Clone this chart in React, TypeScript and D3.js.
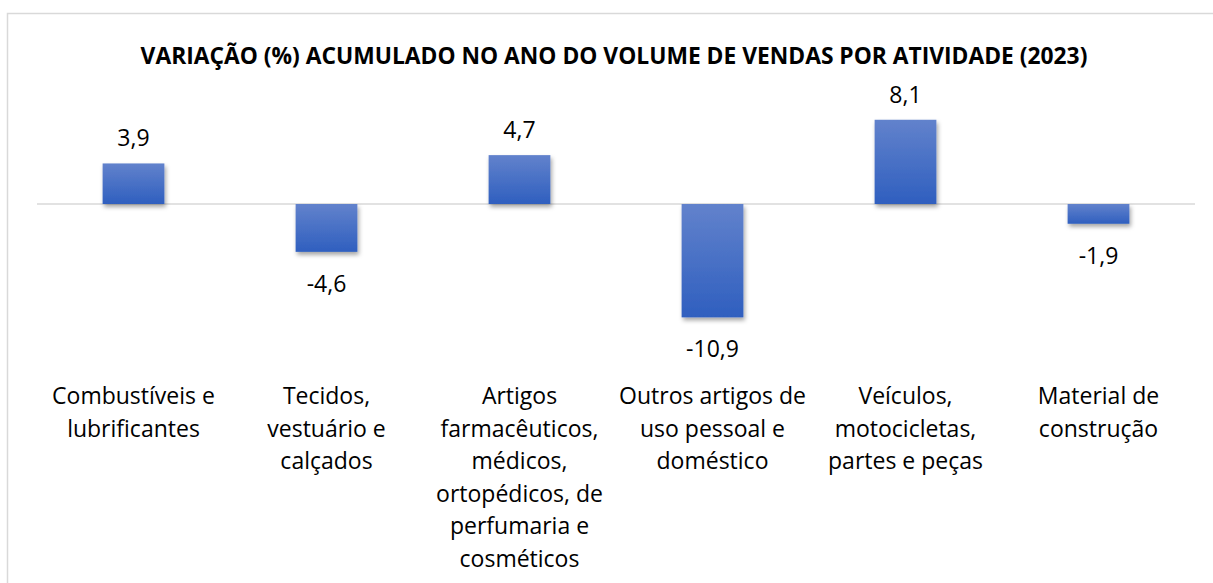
import React from 'react';
import * as d3 from 'd3';

const title = 'VARIAÇÃO (%) ACUMULADO NO ANO DO VOLUME DE VENDAS POR ATIVIDADE (2023)';
const categories = [
  ['Combustíveis e', 'lubrificantes'],
  ['Tecidos,', 'vestuário e', 'calçados'],
  ['Artigos', 'farmacêuticos,', 'médicos,', 'ortopédicos, de', 'perfumaria e', 'cosméticos'],
  ['Outros artigos de', 'uso pessoal e', 'doméstico'],
  ['Veículos,', 'motocicletas,', 'partes e peças'],
  ['Material de', 'construção'],
];
const values = [3.9, -4.6, 4.7, -10.9, 8.1, -1.9];

const width = 1213;
const height = 583;
const font = '"Open Sans", Lato, sans-serif';

const App = () => {
  const keys = categories.map((c) => c.join(' '));
  const x = d3.scaleBand<string>().domain(keys).range([37, 1195]).paddingInner(0.68).paddingOuter(0.34);
  const y = d3.scaleLinear().domain([-12, 9]).range([204 + 12 * 10.4, 204 - 9 * 10.4]);
  const fmt = (v: number) => v.toFixed(1).replace('.', ',');

  return (
    <svg width={width} height={height} style={{ position: 'absolute', left: 0, top: 0, background: '#fff' }}>
      <defs>
        <linearGradient id="barGrad" x1="0" y1="0" x2="0" y2="1">
          <stop offset="0%" stopColor="#6282cc" />
          <stop offset="100%" stopColor="#2f5fbf" />
        </linearGradient>
        <filter id="shadow" x="-20%" y="-20%" width="140%" height="160%">
          <feDropShadow dx="1.5" dy="3" stdDeviation="2" floodColor="#000" floodOpacity="0.35" />
        </filter>
      </defs>
      <rect x={7.5} y={13.5} width={1220} height={600} fill="#fff" stroke="#d9d9d9" strokeWidth={1.5} />
      <text x={614} y={55} textAnchor="middle" dominantBaseline="central" fontFamily={font} fontWeight={700} fontSize={22.8} fill="#000">
        {title}
      </text>
      <line x1={37} x2={1195} y1={y(0)} y2={y(0)} stroke="#d9d9d9" strokeWidth={1.5} />
      {values.map((v, i) => {
        const k = keys[i];
        const bx = x(k)!;
        const top = y(Math.max(0, v));
        const bottom = y(Math.min(0, v));
        return (
          <g key={k}>
            <rect x={bx} y={top} width={x.bandwidth()} height={bottom - top} fill="url(#barGrad)" filter="url(#shadow)" />
            <text
              x={bx + x.bandwidth() / 2}
              y={v >= 0 ? top - 26 : bottom + 31}
              textAnchor="middle"
              dominantBaseline="central"
              fontFamily={font}
              fontSize={23}
              fill="#000"
            >
              {fmt(v)}
            </text>
          </g>
        );
      })}
      {categories.map((lines, i) => (
        <text key={keys[i]} x={x(keys[i])! + x.bandwidth() / 2} textAnchor="middle" fontFamily={font} fontSize={23} fill="#000">
          {lines.map((l, j) => (
            <tspan key={j} x={x(keys[i])! + x.bandwidth() / 2} y={395 + j * 32.6} dominantBaseline="central">
              {l}
            </tspan>
          ))}
        </text>
      ))}
    </svg>
  );
};

export default App;
